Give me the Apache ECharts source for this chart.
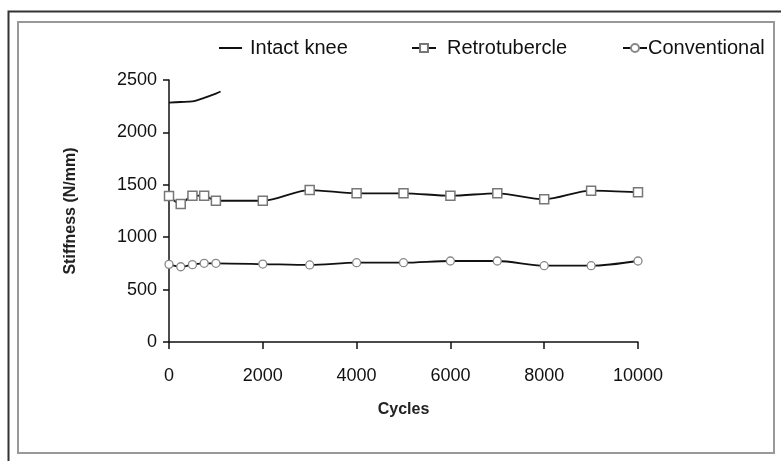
<!DOCTYPE html>
<html>
<head>
<meta charset="utf-8">
<script src="https://cdn.jsdelivr.net/npm/echarts@6/dist/echarts.min.js"></script>
<style>
html,body{margin:0;padding:0;background:#fff;}
#main{width:781px;height:461px;}
</style>
</head>
<body>
<div id="main"></div>
<script>
// data
var seriesNames = ['Intact knee', 'Retrotubercle', 'Conventional'];
var intactX = [0, 250, 500, 750, 1000, 1100];
var intactY = [2285, 2290, 2295, 2330, 2370, 2390];
var cycles = [0, 250, 500, 750, 1000, 2000, 3000, 4000, 5000, 6000, 7000, 8000, 9000, 10000];
var retroY = [1393, 1317, 1396, 1396, 1348, 1348, 1450, 1419, 1419, 1396, 1419, 1362, 1444, 1428];
var convY = [741, 718, 738, 751, 751, 744, 735, 757, 757, 773, 773, 728, 728, 773];

function pairs(xs, ys) {
    var out = [];
    for (var i = 0; i < xs.length; i++) out.push([xs[i], ys[i]]);
    return out;
}

var myChart = echarts.init(document.getElementById('main'));

var legendText = { color: '#111', fontSize: 20, fontFamily: 'Liberation Sans, Arial' };

var option = {
    backgroundColor: '#fff',
    animation: false,
    graphic: [
        { type: 'rect', shape: { x: 8.5, y: 11.5, width: 800, height: 460 }, style: { fill: 'none', stroke: '#333', lineWidth: 2 } },
        { type: 'rect', shape: { x: 18, y: 22, width: 756, height: 431 }, style: { fill: 'none', stroke: '#999', lineWidth: 2 } }
    ],
    legend: [
        { left: 214, top: 33, itemWidth: 23, itemHeight: 2, data: [{ name: seriesNames[0], icon: 'rect' }], textStyle: Object.assign({ padding: [0, 0, 0, 3] }, legendText) },
        { left: 406, top: 33, itemWidth: 24, itemHeight: 10, data: [seriesNames[1]], textStyle: Object.assign({ padding: [0, 0, 0, 6] }, legendText) },
        { left: 617, top: 33, itemWidth: 24, itemHeight: 10, itemGap: 0, data: [seriesNames[2]], textStyle: Object.assign({ padding: [0, 0, 0, -4] }, legendText) }
    ],
    grid: { left: 169, right: 143, top: 80, bottom: 119 },
    xAxis: {
        type: 'value',
        min: 0, max: 10000, interval: 2000,
        name: 'Cycles',
        nameLocation: 'middle',
        nameGap: 60,
        nameTextStyle: { fontSize: 16, fontWeight: 'bold', color: '#222', fontFamily: 'Liberation Sans, Arial' },
        splitLine: { show: false },
        axisLine: { lineStyle: { color: '#111', width: 1.5 } },
        axisTick: { length: 7, lineStyle: { color: '#111', width: 1.5 } },
        axisLabel: { margin: 25, fontSize: 18, color: '#111', fontFamily: 'Liberation Sans, Arial', formatter: function (v) { return String(v); } }
    },
    yAxis: {
        type: 'value',
        min: 0, max: 2500, interval: 500,
        name: 'Stiffness (N/mm)',
        nameLocation: 'middle',
        nameGap: 90,
        nameTextStyle: { fontSize: 16, fontWeight: 'bold', color: '#222', fontFamily: 'Liberation Sans, Arial' },
        splitLine: { show: false },
        axisLine: { show: true, lineStyle: { color: '#111', width: 1.5 } },
        axisTick: { show: true, length: 6, lineStyle: { color: '#111', width: 1.5 } },
        axisLabel: { margin: 12, fontSize: 18, color: '#111', fontFamily: 'Liberation Sans, Arial', formatter: function (v) { return String(v); } }
    },
    series: [
        {
            name: seriesNames[0],
            type: 'line',
            data: pairs(intactX, intactY),
            smooth: 0.3,
            symbol: 'none',
            lineStyle: { color: '#111', width: 1.8 },
            itemStyle: { color: '#111' }
        },
        {
            name: seriesNames[1],
            type: 'line',
            data: pairs(cycles, retroY),
            smooth: 0.3,
            symbol: 'rect',
            symbolSize: 9,
            lineStyle: { color: '#111', width: 1.8 },
            itemStyle: { color: '#fff', borderColor: '#777', borderWidth: 1.5 }
        },
        {
            name: seriesNames[2],
            type: 'line',
            data: pairs(cycles, convY),
            smooth: 0.3,
            symbol: 'circle',
            symbolSize: 8,
            lineStyle: { color: '#111', width: 1.8 },
            itemStyle: { color: '#fff', borderColor: '#888', borderWidth: 1.3 }
        }
    ]
};

myChart.setOption(option);
window.onresize = function () {
    myChart.resize();
};
</script>
</body>
</html>
